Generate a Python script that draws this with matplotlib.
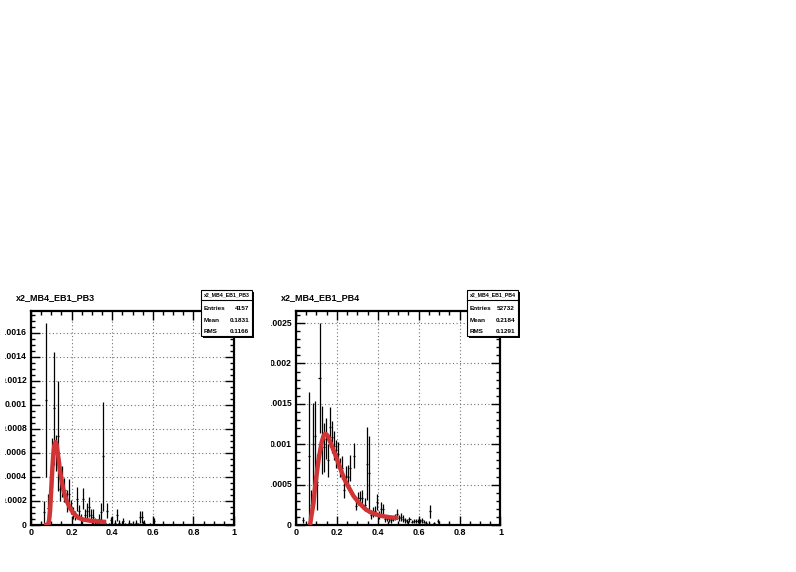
import matplotlib
matplotlib.use('Agg')
import matplotlib.pyplot as plt
from matplotlib.patches import Rectangle
from matplotlib.lines import Line2D
from matplotlib.transforms import Bbox, TransformedBbox

plt.rcParams['font.family'] = ['Liberation Sans', 'DejaVu Sans']

# ---------------- data ----------------
titles = ["x2_MB4_EB1_PB3", "x2_MB4_EB1_PB4"]
stat_entries = ["4157", "52732"]
stat_means = ["0.1831", "0.2184"]
stat_rms = ["0.1166", "0.1291"]

x_ticks = [0, 0.2, 0.4, 0.6, 0.8, 1.0]
x_tick_labels = ["0", "0.2", "0.4", "0.6", "0.8", "1"]

left_y_ticks = [0, 0.0002, 0.0004, 0.0006, 0.0008, 0.001, 0.0012, 0.0014, 0.0016]
left_y_labels = ["0", "0.0002", "0.0004", "0.0006", "0.0008", "0.001", "0.0012", "0.0014", "0.0016"]
right_y_ticks = [0, 0.0005, 0.001, 0.0015, 0.002, 0.0025]
right_y_labels = ["0", "0.0005", "0.001", "0.0015", "0.002", "0.0025"]

left_x = [0.065, 0.075, 0.085, 0.095, 0.105, 0.115, 0.125, 0.135, 0.145, 0.155,
          0.165, 0.175, 0.185, 0.195, 0.205, 0.215, 0.225, 0.235, 0.245, 0.255,
          0.265, 0.275, 0.285, 0.295, 0.305, 0.315, 0.325, 0.335, 0.345, 0.355,
          0.365, 0.375, 0.385, 0.395, 0.415, 0.425, 0.435, 0.455, 0.465, 0.485,
          0.495, 0.515, 0.525, 0.535, 0.545, 0.555, 0.585, 0.605]
left_y = [0.00011, 0.00104, 0.00014, 0.00020, 0.00052, 0.00097, 0.00060, 0.00074, 0.00030, 0.00036,
          0.00029, 0.00020, 0.00026, 0.00015, 0.00010, 0.00008, 0.00022, 0.00012, 0.00005, 0.00022,
          0.00008, 0.00012, 0.00015, 0.00008, 0.00007, 0.00003, 0.00002, 0.00005, 0.00011, 0.00057,
          0.00002, 0.00012, 0.00001, 0.00004, 0.00002, 0.00008, 0.00002, 0.00003, 0.00001, 0.00002,
          0.00001, 0.00002, 0.00001, 0.00007, 0.00007, 0.00002, 0.00001, 0.00003]
left_err = [0.00009, 0.00064, 0.00012, 0.00012, 0.00020, 0.00047, 0.00015, 0.00046, 0.00010, 0.00013,
            0.00010, 0.00009, 0.00012, 0.00006, 0.00005, 0.00004, 0.00010, 0.00005, 0.00004, 0.00009,
            0.00005, 0.00006, 0.00008, 0.00005, 0.00006, 0.00003, 0.00002, 0.00004, 0.00007, 0.00045,
            0.00002, 0.00006, 0.00001, 0.00003, 0.00002, 0.00005, 0.00002, 0.00003, 0.00001, 0.00002,
            0.00001, 0.00002, 0.00001, 0.00005, 0.00005, 0.00002, 0.00001, 0.00003]

right_x = [0.035, 0.065, 0.075, 0.085, 0.095, 0.105, 0.115, 0.125, 0.135, 0.145,
           0.155, 0.165, 0.175, 0.185, 0.195, 0.205, 0.215, 0.225, 0.235, 0.245,
           0.255, 0.265, 0.285, 0.295, 0.305, 0.315, 0.325, 0.335, 0.345, 0.355,
           0.365, 0.375, 0.385, 0.395, 0.405, 0.415, 0.425, 0.435, 0.445, 0.455,
           0.465, 0.475, 0.485, 0.495, 0.505, 0.515, 0.525, 0.535, 0.545, 0.555,
           0.565, 0.575, 0.585, 0.595, 0.605, 0.615, 0.625, 0.635, 0.655, 0.675, 0.695]
right_y = [0.00006, 0.00086, 0.00025, 0.00100, 0.00110, 0.00053, 0.00182, 0.00105, 0.00096, 0.00107,
           0.00080, 0.00121, 0.00109, 0.00098, 0.00088, 0.00088, 0.00071, 0.00071, 0.00043, 0.00061,
           0.00060, 0.00071, 0.00086, 0.00024, 0.00033, 0.00034, 0.00033, 0.00025, 0.00076, 0.00064,
           0.00013, 0.00016, 0.00017, 0.00029, 0.00012, 0.00020, 0.00020, 0.00008, 0.00009, 0.00007,
           0.00006, 0.00008, 0.00010, 0.00014, 0.00009, 0.00010, 0.00008, 0.00006, 0.00005, 0.00007,
           0.00004, 0.00005, 0.00005, 0.00005, 0.00005, 0.00006, 0.00004, 0.00003, 0.00017, 0.00002, 0.00005]
right_err = [0.00004, 0.00079, 0.00018, 0.00051, 0.00044, 0.00035, 0.00068, 0.00042, 0.00030, 0.00025,
             0.00020, 0.00025, 0.00020, 0.00018, 0.00017, 0.00015, 0.00012, 0.00014, 0.00010, 0.00012,
             0.00014, 0.00016, 0.00016, 0.00006, 0.00008, 0.00008, 0.00010, 0.00008, 0.00045, 0.00046,
             0.00005, 0.00006, 0.00006, 0.00010, 0.00005, 0.00008, 0.00006, 0.00004, 0.00004, 0.00003,
             0.00003, 0.00003, 0.00004, 0.00006, 0.00004, 0.00005, 0.00004, 0.00003, 0.00003, 0.00003,
             0.00002, 0.00003, 0.00003, 0.00003, 0.00003, 0.00003, 0.00002, 0.00002, 0.00008, 0.00002, 0.00003]

left_fit_x = [0.064, 0.075, 0.085, 0.090, 0.094, 0.098, 0.102, 0.106, 0.110, 0.114, 0.118, 0.122,
              0.126, 0.130, 0.135, 0.143, 0.151, 0.160, 0.176, 0.192, 0.209, 0.233, 0.258, 0.290,
              0.330, 0.370]
left_fit_y = [0.0, 0.0, 0.0, 0.00005, 0.00012, 0.00024, 0.00037, 0.00049, 0.00059, 0.00065, 0.00068, 0.00069,
              0.00067, 0.00062, 0.00056, 0.00045, 0.00037, 0.00029, 0.00020, 0.00014, 0.00010, 0.00006,
              0.000045, 0.000036, 0.00003, 0.000025]

right_fit_x = [0.0685, 0.077, 0.085, 0.093, 0.101, 0.110, 0.118, 0.126, 0.134, 0.142, 0.150, 0.158,
               0.175, 0.191, 0.208, 0.224, 0.240, 0.257, 0.281, 0.306, 0.338, 0.362, 0.411, 0.460, 0.500]
right_fit_y = [0.0, 0.00014, 0.00026, 0.00047, 0.00063, 0.00080, 0.00092, 0.00103, 0.00110, 0.00113, 0.00112,
               0.00109, 0.00098, 0.00088, 0.00076, 0.00065, 0.00055, 0.00047, 0.00036, 0.00028, 0.00020,
               0.00016, 0.000115, 0.000095, 0.000087]

# ---------------- layout ----------------
W, H = 796, 572
fig = plt.figure(figsize=(W / 100, H / 100), dpi=100)
fig.patch.set_facecolor('white')


def fx(x):
    return x / W


def fy(y):
    return 1 - y / H


FONT = dict(fontsize=6.5, fontweight='bold')
YFONT = dict(fontsize=6.2, fontweight='bold')

panels = [
    dict(rect=(31, 311, 234, 525), ylim=0.00178, yt=left_y_ticks, yl=left_y_labels, ymin=0.00005,
         x=left_x, y=left_y, e=left_err, fx=left_fit_x, fy=left_fit_y, title=titles[0],
         ent=stat_entries[0], mean=stat_means[0], rms=stat_rms[0], box=(201, 290, 252, 336),
         clipx=5, title_x=16),
    dict(rect=(296, 311, 500.5, 525), ylim=0.00265, yt=right_y_ticks, yl=right_y_labels, ymin=0.0001,
         x=right_x, y=right_y, e=right_err, fx=right_fit_x, fy=right_fit_y, title=titles[1],
         ent=stat_entries[1], mean=stat_means[1], rms=stat_rms[1], box=(467, 290, 518, 336),
         clipx=270.5, title_x=281),
]

for p in panels:
    x0, y0, x1, y1 = p['rect']
    ax = fig.add_axes([fx(x0), fy(y1), (x1 - x0) / W, (y1 - y0) / H])
    ax.set_xlim(0, 1)
    ax.set_ylim(0, p['ylim'])
    ax.set_xticks(x_ticks)
    ax.set_xticklabels(x_tick_labels, **FONT)
    ax.set_xticks([i * 0.05 for i in range(21)], minor=True)
    ax.set_yticks(p['yt'])
    nmin = int(round(p['ylim'] / p['ymin'])) + 1
    ax.set_yticks([i * p['ymin'] for i in range(nmin) if i * p['ymin'] <= p['ylim']], minor=True)
    ax.tick_params(which='both', direction='in', top=True, right=True, labelleft=False,
                   width=1.0, color='black')
    ax.tick_params(which='major', length=6.5, pad=2)
    ax.tick_params(which='minor', length=3.2)
    for s in ax.spines.values():
        s.set_linewidth(1.6)
    ax.grid(True, which='major', linestyle=(0, (1, 2.2)), color='0.45', linewidth=0.8)
    ax.set_axisbelow(True)

    ax.errorbar(p['x'], p['y'], yerr=p['e'], xerr=0.005, fmt='none', ecolor='black',
                elinewidth=0.9, capsize=0, zorder=2)
    ax.plot(p['fx'], p['fy'], color='#d03434', lw=3.2, solid_joinstyle='round',
            solid_capstyle='butt', zorder=3)

    # y tick labels, clipped at the pad edge like the original canvas
    clip = TransformedBbox(Bbox.from_extents(fx(p['clipx']), 0, fx(p['clipx'] + 260), 1),
                           fig.transFigure)
    for v, lab in zip(p['yt'], p['yl']):
        t = fig.text(-0.02, v, lab, transform=ax.get_yaxis_transform(), ha='right',
                     va='center', **YFONT)
        t.set_clip_on(True)
        t.set_clip_box(clip)

    # title
    fig.text(fx(p['title_x']), fy(297.5), p['title'], ha='left', va='center', **FONT)

    # stats box
    bx0, by0, bx1, by1 = p['box']
    fig.add_artist(Rectangle((fx(bx0 + 2), fy(by1 + 2)), (bx1 - bx0) / W, (by1 - by0) / H,
                             transform=fig.transFigure, facecolor='black', edgecolor='black',
                             lw=0))
    fig.add_artist(Rectangle((fx(bx0), fy(by1)), (bx1 - bx0) / W, (by1 - by0) / H,
                             transform=fig.transFigure, facecolor='white', edgecolor='black',
                             lw=0.8))
    fig.add_artist(Line2D([fx(bx0), fx(bx1)], [fy(300), fy(300)], transform=fig.transFigure,
                          color='black', lw=0.8))
    fig.text(fx((bx0 + bx1) / 2), fy(295), p['title'], ha='center', va='center',
             fontsize=3.8, fontweight='bold')
    for yy, lab, val in [(309, 'Entries', p['ent']), (320.5, 'Mean', p['mean']),
                         (331.5, 'RMS', p['rms'])]:
        fig.text(fx(bx0 + 2.5), fy(yy), lab, ha='left', va='center', fontsize=4.6,
                 fontweight='bold')
        fig.text(fx(bx1 - 3), fy(yy), val, ha='right', va='center', fontsize=4.6,
                 fontweight='bold')

fig.savefig('out.png', dpi=100, facecolor='white')
